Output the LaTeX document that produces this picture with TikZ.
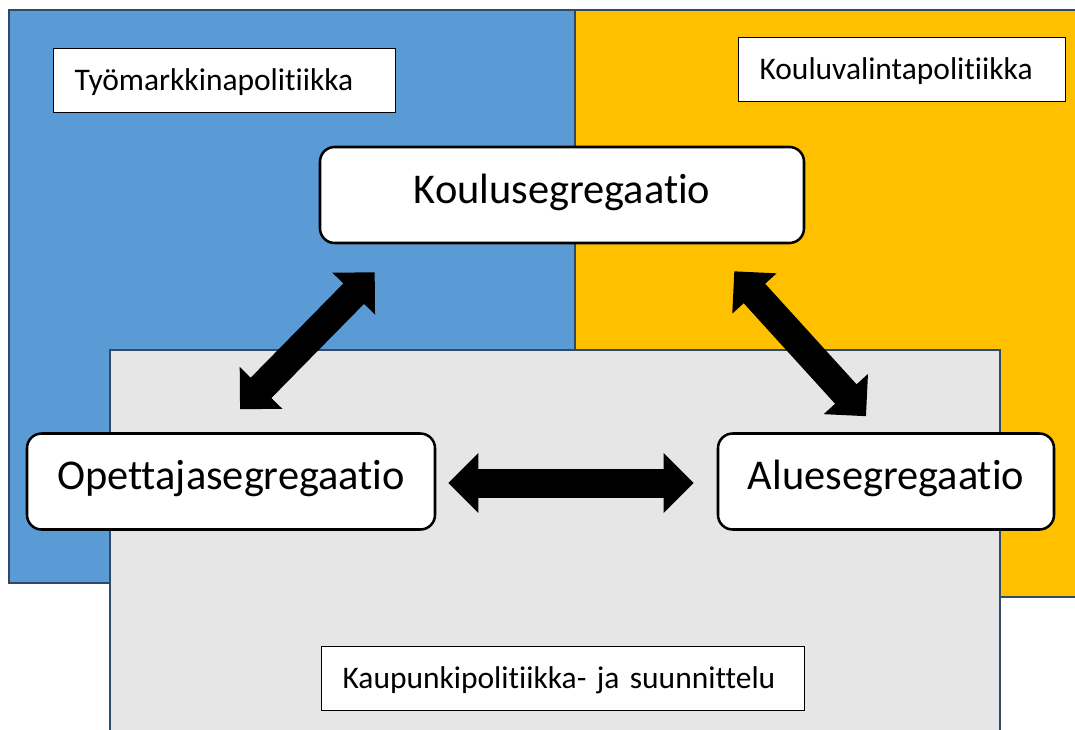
\documentclass[tikz,border=0pt]{standalone}
\usepackage{fontspec}
\setmainfont{Carlito}[Ligatures=CommonOff]
\usepackage{tikz}
\usetikzlibrary{arrows.meta}
\usetikzlibrary{calc}
\definecolor{laborblue}{HTML}{5B9BD5}
\definecolor{choiceyellow}{HTML}{FFC000}
\definecolor{citygray}{HTML}{E6E6E6}
\definecolor{fieldedge}{HTML}{2E4A68}
\tikzset{
	field/.style={draw=fieldedge,line width=1.5pt},
	policy/.style={draw=black,fill=white,line width=0.9pt,anchor=north west,
		align=left,inner xsep=15.75pt,inner ysep=0pt,minimum height=48pt,
		text height=15pt,text depth=0pt,font=\fontsize{23.6}{28}\selectfont},
	segbox/.style={draw=black,fill=white,line width=1.9pt,rounded corners=11pt,
		minimum height=72pt,inner ysep=0pt,text height=22pt,text depth=10pt,
		font=\fontsize{31.8}{38}\selectfont},
	dblarrow/.style={line width=21.75pt,
		{Triangle[length=22.5pt,width=43.5pt]}-{Triangle[length=22.5pt,width=43.5pt]}}
}

\begin{document}
\begin{tikzpicture}[x=0.75pt,y=-0.75pt]
	\clip (0,0) rectangle (1075,729);
	% policy fields
	\draw[field,fill=laborblue] (9,10) rectangle (575,583);
	\draw[field,fill=choiceyellow] (575,10) rectangle (1090,597);
	\draw[field,fill=citygray] (110,350) rectangle (1000,745);
	
	\node[policy,text width=225pt] (labor) at (53,48) {Työmarkkinapolitiikka};
	\node[policy,text width=213.75pt] (choice) at (738,37) {Kouluvalintapolitiikka};
	\node[policy,text width=330.75pt] (city) at (321,646) {Kaupunkipolitiikka- ja suunnittelu};
	
	% segregation forms
	\node[segbox,minimum width=363pt] (koulu) at (562,195) {Koulusegregaatio};
	\node[segbox,minimum width=306pt] (opettaja) at (231,481.5) {Opettajasegregaatio};
	\node[segbox,minimum width=252pt] (alue) at (886,481.5) {Aluesegregaatio};
	
	\draw[dblarrow] ($(opettaja.north)+(9,-23)$) -- ($(koulu.south west)+(56,28)$);
	\draw[dblarrow] ($(koulu.south east)+(-71,27)$) -- ($(alue.north)+(-20,-16)$);
	\draw[dblarrow] ($(opettaja.east)+(12,1.5)$) -- ($(alue.west)+(-23,1.5)$);
\end{tikzpicture}
\end{document}
